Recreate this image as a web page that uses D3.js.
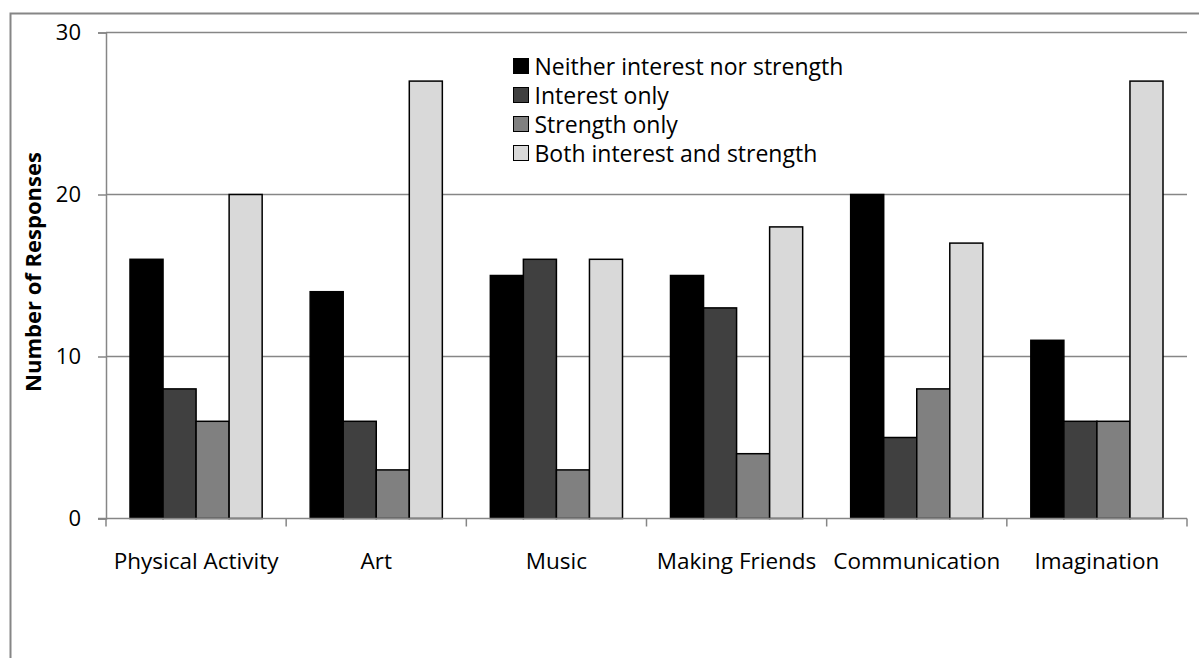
<!DOCTYPE html>
<html>
<head>
<meta charset="utf-8">
<script src="https://cdn.jsdelivr.net/npm/d3@7"></script>
<style>
  body { margin: 0; background: #fff; }
  text { font-family: "Open Sans", "Noto Sans", sans-serif; fill: #000; }
</style>
</head>
<body>
<svg id="chart" width="1199" height="658"></svg>
<script>
var categories = ["Physical Activity", "Art", "Music", "Making Friends", "Communication", "Imagination"]
var seriesNames = ["Neither interest nor strength", "Interest only", "Strength only", "Both interest and strength"]
var neither = [16, 14, 15, 15, 20, 11]
var interestOnly = [8, 6, 16, 13, 5, 6]
var strengthOnly = [6, 3, 3, 4, 8, 6]
var both = [20, 27, 16, 18, 17, 27]
var yTicks = [0, 10, 20, 30]
var colors = ["#000000", "#404040", "#808080", "#d9d9d9"]

var series = [neither, interestOnly, strengthOnly, both]

var svg = d3.select("#chart")
var plotLeft = 106, plotRight = 1187, plotTop = 32.5, plotBottom = 518.5

// outer frame (only top and left visible in the picture)
svg.append("path")
    .attr("d", "M10.5,700 V13.5 H1210")
    .attr("fill", "none").attr("stroke", "#868686").attr("stroke-width", 2)

var x = d3.scaleBand().domain(categories).range([plotLeft, plotRight])
var xi = d3.scaleBand().domain(d3.range(4)).range([24, x.bandwidth() - 24])
var y = d3.scaleLinear().domain([0, 30]).range([plotBottom, plotTop])

// gridlines
svg.append("g").selectAll("line")
    .data(yTicks.filter(function(d){return d > 0}))
    .enter().append("line")
    .attr("x1", plotLeft).attr("x2", plotRight)
    .attr("y1", function(d){return y(d)}).attr("y2", function(d){return y(d)})
    .attr("stroke", "#868686").attr("stroke-width", 1.5)

// bars
for(s=0;s<series.length;s++)
{
    svg.append("g").selectAll("rect")
        .data(series[s])
        .enter().append("rect")
        .attr("x", function(d, i){return x(categories[i]) + xi(s)})
        .attr("width", xi.bandwidth())
        .attr("y", function(d){return y(d)})
        .attr("height", function(d){return y(0) - y(d)})
        .attr("fill", colors[s])
        .attr("stroke", "#000").attr("stroke-width", 1.5)
}

// y axis
var yAxis = svg.append("g").attr("transform", "translate(" + plotLeft + ",0)")
    .call(d3.axisLeft(y).tickValues(yTicks).tickSize(8).tickPadding(17))
yAxis.select(".domain").attr("stroke", "#868686").attr("stroke-width", 1.5)
yAxis.selectAll(".tick line").attr("stroke", "#868686").attr("stroke-width", 1.5)
yAxis.selectAll("text").attr("font-size", 22).attr("font-family", "Open Sans").attr("fill", "#000")

// x axis
var xAxis = svg.append("g").attr("transform", "translate(0," + plotBottom + ")")
xAxis.append("line").attr("x1", plotLeft - 8).attr("x2", plotRight).attr("y1", 0).attr("y2", 0)
    .attr("stroke", "#868686").attr("stroke-width", 1.5)
xAxis.selectAll(".sep")
    .data(d3.range(categories.length + 1))
    .enter().append("line")
    .attr("class", "sep")
    .attr("x1", function(d){return plotLeft + d * x.step()})
    .attr("x2", function(d){return plotLeft + d * x.step()})
    .attr("y1", 0).attr("y2", 8)
    .attr("stroke", "#868686").attr("stroke-width", 1.5)
xAxis.selectAll(".lab")
    .data(categories)
    .enter().append("text")
    .attr("class", "lab")
    .attr("x", function(d){return x(d) + x.bandwidth() / 2})
    .attr("y", 50)
    .attr("text-anchor", "middle")
    .attr("font-size", 22.5)
    .text(function(d){return d})

// y title
svg.append("text")
    .attr("transform", "translate(41,272) rotate(-90)")
    .attr("text-anchor", "middle")
    .attr("font-size", 22)
    .attr("font-weight", "bold")
    .text("Number of Responses")

// legend
var legend = svg.append("g").attr("transform", "translate(513.5,58.5)")
var item = legend.selectAll("g")
    .data(seriesNames)
    .enter().append("g")
    .attr("transform", function(d, i){return "translate(0," + (i * 29) + ")"})
item.append("rect")
    .attr("width", 15).attr("height", 15)
    .attr("fill", function(d, i){return colors[i]})
    .attr("stroke", "#000").attr("stroke-width", 1)
item.append("text")
    .attr("x", 21).attr("y", 8)
    .attr("dy", "0.35em")
    .attr("font-size", 23)
    .text(function(d){return d})
</script>
</body>
</html>
